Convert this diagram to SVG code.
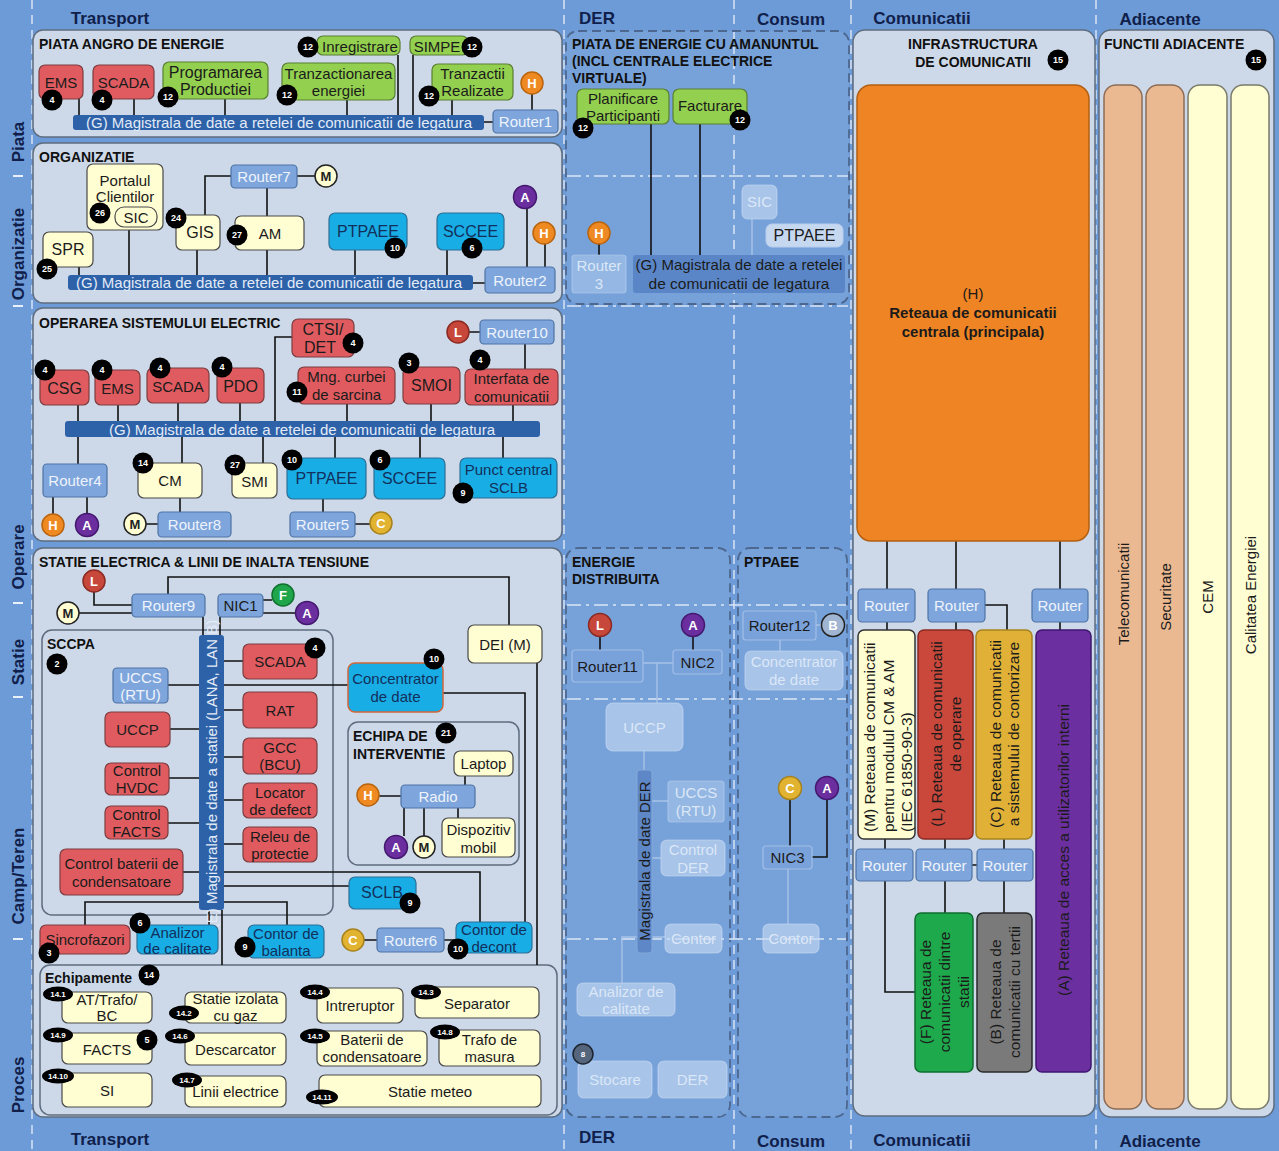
<svg xmlns="http://www.w3.org/2000/svg" width="1279" height="1151" viewBox="0 0 1279 1151">
<style>
text{font-family:"Liberation Sans",Arial,sans-serif}
.t{font-size:15px;fill:#1b1b1b;text-anchor:middle;dominant-baseline:central}
.big{font-size:16px}
.hd{font-size:14px;font-weight:bold;fill:#111;dominant-baseline:central}
.ax{font-size:17px;font-weight:bold;fill:#10204a;text-anchor:middle;dominant-baseline:central}
.pn{fill:#cdd9e9;stroke:#5d6c7e;stroke-width:1.5}
.dp{fill:#ffffff;fill-opacity:.07;stroke:#4d6890;stroke-width:1.8;stroke-dasharray:9 5}
.rd{fill:#e05b60;stroke:#7c3d40;stroke-width:1.2}
.gn{fill:#93d04f;stroke:#5a7e32;stroke-width:1.2}
.cy{fill:#19ade5;stroke:#2d6f96;stroke-width:1.2}
.rt{fill:#7ea6dc;stroke:#4e73a5;stroke-width:1.2}
.yl{fill:#fffdd2;stroke:#4a4a4a;stroke-width:1.2}
.bs{fill:#2d62a9}
.wt{fill:#eef3fb}
.ct{fill:#12305c}
.bw{fill:#e3ebf7}
.cn circle{stroke-width:1.5}
.cn text{font-size:13px;font-weight:bold;fill:#fff;text-anchor:middle;dominant-baseline:central}
.cn text.dk{fill:#222}
.ch{fill:#ef8a22;stroke:#b9640f}
.ca{fill:#6a2e9e;stroke:#44186e}
.cl{fill:#c8473b;stroke:#8a2a22}
.cc{fill:#e2b231;stroke:#a7821c}
.cf{fill:#1fa64b;stroke:#10702e}
.cm{fill:#fffdd2;stroke:#222}
.cb{fill:#9fb5d2;stroke:#222}
.bd circle,.bd ellipse{fill:#000}
.bd text{font-size:9px;font-weight:bold;fill:#fff;text-anchor:middle;dominant-baseline:central}
.bd text.sm{font-size:8px}
#conn path{fill:none;stroke:#111;stroke-width:1.6}
#conn path.f{stroke:#a8c2e8;stroke-width:1.4}
.fd{fill:#b8d0f0;fill-opacity:.45;stroke:#b8d0f0;stroke-opacity:.6;stroke-width:1.2}
.fl{fill:#c9dbf4;fill-opacity:.6;stroke:#c9dbf4;stroke-opacity:.6;stroke-width:1.2}
.fr{fill:#7aa2da;stroke:#a0bee8;stroke-width:1.2}
.ft{fill:#dbe7f7}
.vd{stroke:#d8e4f5;stroke-width:1.5;stroke-dasharray:9 6;fill:none}
.hz{stroke:#dbe6f6;stroke-width:1.5;stroke-dasharray:14 5 3 5;fill:none}
.vt{font-size:15.5px;dominant-baseline:central}
</style>
<rect width="1279" height="1151" fill="#6d9bd7"/>
<g id="grid">
<path class="vd" d="M32 0V1151M564 0V1151M734 0V1151M851 0V1151M1096 0V1151"/>
<path d="M13 176H23M13 306H23M13 603H23M13 697H23M13 939H23" stroke="#e8f0fb" stroke-width="2"/>
</g>
<g id="axis-labels">
<text class="ax" x="110" y="18">Transport</text>
<text class="ax" x="597" y="18">DER</text>
<text class="ax" x="791" y="19">Consum</text>
<text class="ax" x="922" y="18">Comunicatii</text>
<text class="ax" x="1160" y="19">Adiacente</text>
<text class="ax" x="110" y="1139">Transport</text>
<text class="ax" x="597" y="1137">DER</text>
<text class="ax" x="791" y="1141">Consum</text>
<text class="ax" x="922" y="1140">Comunicatii</text>
<text class="ax" x="1160" y="1141">Adiacente</text>
<text class="ax" transform="translate(18,142) rotate(-90)">Piata</text>
<text class="ax" transform="translate(18,254) rotate(-90)">Organizatie</text>
<text class="ax" transform="translate(18,557) rotate(-90)">Operare</text>
<text class="ax" transform="translate(18,662) rotate(-90)">Statie</text>
<text class="ax" transform="translate(18,876) rotate(-90)">Camp/Teren</text>
<text class="ax" transform="translate(18,1085) rotate(-90)">Proces</text>
</g>

<!-- panels -->
<g id="p-angro"><rect class="pn" x="33" y="30" width="529" height="107" rx="10"/><text class="hd" x="39" y="44">PIATA ANGRO DE ENERGIE</text></g>
<g id="p-org"><rect class="pn" x="33" y="143" width="529" height="160" rx="10"/><text class="hd" x="39" y="157">ORGANIZATIE</text></g>
<g id="p-op"><rect class="pn" x="33" y="308" width="529" height="233" rx="10"/><text class="hd" x="39" y="323">OPERAREA SISTEMULUI ELECTRIC</text></g>
<g id="p-statie"><rect class="pn" x="33" y="548" width="529" height="569" rx="10"/><text class="hd" x="39" y="562">STATIE ELECTRICA &amp; LINII DE INALTA TENSIUNE</text></g>
<g id="p-sccpa"><rect class="pn" x="42" y="630" width="291" height="285" rx="10"/><text class="hd" x="47" y="644">SCCPA</text></g>
<g id="p-echipa"><rect class="pn" x="348" y="722" width="171" height="143" rx="10"/><text class="hd"><tspan x="353" y="736">ECHIPA DE</tspan><tspan x="353" y="754">INTERVENTIE</tspan></text></g>
<g id="p-echip"><rect class="pn" x="40" y="965" width="517" height="150" rx="10"/><text class="hd" x="45" y="978">Echipamente</text></g>
<g id="p-retail"><rect class="dp" x="566" y="31" width="283" height="273" rx="12"/><text class="hd"><tspan x="572" y="44">PIATA DE ENERGIE CU AMANUNTUL</tspan><tspan x="572" y="61">(INCL CENTRALE ELECTRICE</tspan><tspan x="572" y="78">VIRTUALE)</tspan></text></g>
<g id="p-energie"><rect class="dp" x="566" y="548" width="164" height="569" rx="12"/><text class="hd"><tspan x="572" y="562">ENERGIE</tspan><tspan x="572" y="579">DISTRIBUITA</tspan></text></g>
<g id="p-ptpaee"><rect class="dp" x="738" y="548" width="109" height="569" rx="12"/><text class="hd" x="744" y="562">PTPAEE</text></g>
<g id="p-com"><rect class="pn" x="853" y="30" width="242" height="1086" rx="12"/><text class="hd" text-anchor="middle"><tspan x="973" y="44">INFRASTRUCTURA</tspan><tspan x="973" y="62">DE COMUNICATII</tspan></text></g>
<g id="p-adi"><rect class="pn" x="1099" y="30" width="175" height="1087" rx="12"/><text class="hd" x="1104" y="44">FUNCTII ADIACENTE</text></g>

<g id="der-grid">
<path class="hz" d="M567 176H848M567 306H848M567 605H846M567 699H846M567 939H846"/>
</g>

<g id="conn">
<path d="M79 99V115M134 99V115M225 99V115M347 100V115M398 55V115M413 55V115M452 100V115M532 94V110M484 122H493"/>
<path d="M79 267V275M129 227V275M197 250V275M267 250V275M267 188V216M231 176H205V215M297 176H315M355 250V275M447 250V275M527 208V267M545 244V267M473 283H485"/>
<path d="M78 405V421M118 405V421M178 403V421M240 403V421M292 337H275V421M347 404V421M431 404V421M513 405V421M469 332H480M525 344V369"/>
<path d="M78 437V464M53 497V514M87 497V514M182 437V463M180 498V512M146 524H158M263 437V463M335 437V458M420 437V458M503 437V458M323 499V512M355 524H370"/>
<path d="M94 592V605H132M79 613H132M168 594V577H509V625M263 600H272M263 613H296M203 617V635M220 617V635"/>
<path d="M168 685H199M170 729H199M169 778H199M168 823H199M183 872H199M224 661H243M224 710H243M224 757H243M224 800H243M224 844H243"/>
<path d="M224 685H348M443 693H525V922M537 663V965M379 796H401M465 776V785M404 808V836M424 808V836M458 808V818"/>
<path d="M224 872H480V922M224 886H349M85 925V902H199M224 902H287V925M209 910V925M222 910V965M364 940H377M444 940H456"/>
<path d="M651 124V255M700 124V255M599 244V255M600 637V650M693 637V650M790 800V846M827 800V857H812"/>
<path class="f" d="M752 219V255M643 663H673M657 663V703M644 751V770M652 801H668M652 858H661M652 937H665M622 983V937H637M780 640V651M816 625H821M788 869V924"/>
<path d="M887 541V589M956 541V589M1060 541V589M985 605H1007V630M887 622V630M956 622V630M1060 622V630M885 839V849M945 839V849M1004 839V849M972 865H977M885 881V992H915M945 881V913M1004 881V913"/>
</g>

<!-- Piata angro -->
<g id="n-ems1"><rect class="rd" x="39" y="65" width="44" height="34" rx="6"/><text class="t" x="61" y="82">EMS</text></g>
<g id="n-scada1"><rect class="rd" x="93" y="65" width="61" height="34" rx="6"/><text class="t" x="123.5" y="82">SCADA</text></g>
<g id="n-prog"><rect class="gn" x="163" y="62" width="105" height="37" rx="6"/><text class="t big"><tspan x="215.5" y="72">Programarea</tspan><tspan x="215.5" y="89">Productiei</tspan></text></g>
<g id="n-tranz"><rect class="gn" x="282" y="63" width="113" height="37" rx="6"/><text class="t"><tspan x="338.5" y="73">Tranzactionarea</tspan><tspan x="338.5" y="90">energiei</tspan></text></g>
<g id="n-inreg"><rect class="gn" x="317" y="36" width="83" height="19" rx="6"/><text class="t" x="360" y="46">Inregistrare</text></g>
<g id="n-simpe"><rect class="gn" x="410" y="36" width="58" height="19" rx="6"/><text class="t" x="437" y="46">SIMPE</text></g>
<g id="n-realiz"><rect class="gn" x="432" y="64" width="81" height="36" rx="6"/><text class="t"><tspan x="472.5" y="73">Tranzactii</tspan><tspan x="472.5" y="90">Realizate</tspan></text></g>
<g id="n-h1" class="cn"><circle class="ch" cx="532" cy="83" r="11"/><text x="532" y="83">H</text></g>
<g id="n-router1"><rect class="rt" x="493" y="110" width="65" height="23" rx="4"/><text class="t wt" x="525.5" y="121.5">Router1</text></g>
<g id="n-bus1"><rect class="bs" x="73" y="115" width="411" height="15" rx="3"/><text class="t bw" x="279" y="122.5" font-size="15.5">(G) Magistrala de date a retelei de comunicatii de legatura</text></g>
<g class="bd"><circle cx="52" cy="100" r="10.5"/><text x="52" y="100">4</text><circle cx="102" cy="100" r="10.5"/><text x="102" y="100">4</text><circle cx="168" cy="97" r="10.5"/><text x="168" y="97">12</text><circle cx="287" cy="95" r="10.5"/><text x="287" y="95">12</text><circle cx="308" cy="47" r="10.5"/><text x="308" y="47">12</text><circle cx="472" cy="47" r="10.5"/><text x="472" y="47">12</text><circle cx="429" cy="96" r="10.5"/><text x="429" y="96">12</text></g>

<!-- Organizatie -->
<g id="n-portal"><rect class="yl" x="87" y="164" width="76" height="66" rx="6"/><text class="t" font-size="14"><tspan x="125" y="180">Portalul</tspan><tspan x="125" y="196">Clientilor</tspan></text><rect class="yl" x="115" y="207" width="42" height="20" rx="9" stroke="#333"/><text class="t" x="136" y="217">SIC</text></g>
<g id="n-spr"><rect class="yl" x="43" y="232" width="50" height="35" rx="6"/><text class="t big" x="68" y="249.5">SPR</text></g>
<g id="n-gis"><rect class="yl" x="176" y="215" width="44" height="35" rx="6"/><text class="t big" x="200" y="232.5">GIS</text></g>
<g id="n-am"><rect class="yl" x="235" y="216" width="69" height="34" rx="6"/><text class="t" x="270" y="233">AM</text></g>
<g id="n-router7"><rect class="rt" x="231" y="165" width="66" height="23" rx="4"/><text class="t wt" x="264" y="176.5">Router7</text></g>
<g id="n-m1" class="cn"><circle class="cm" cx="326" cy="176" r="11"/><text class="dk" x="326" y="176">M</text></g>
<g id="n-ptpaee1"><rect class="cy" x="329" y="213" width="78" height="37" rx="6"/><text class="t ct big" x="368" y="231">PTPAEE</text></g>
<g id="n-sccee1"><rect class="cy" x="437" y="213" width="67" height="37" rx="6"/><text class="t ct big" x="470.5" y="231">SCCEE</text></g>
<g id="n-a1" class="cn"><circle class="ca" cx="525" cy="197" r="11.5"/><text x="525" y="197">A</text></g>
<g id="n-h2" class="cn"><circle class="ch" cx="544" cy="233" r="11"/><text x="544" y="233">H</text></g>
<g id="n-router2"><rect class="rt" x="485" y="267" width="70" height="26" rx="4"/><text class="t wt" x="520" y="280">Router2</text></g>
<g id="n-bus2"><rect class="bs" x="68" y="275" width="405" height="15" rx="3"/><text class="t bw" x="269" y="282.5" font-size="15.5">(G) Magistrala de date a retelei de comunicatii de legatura</text></g>
<g class="bd"><circle cx="100" cy="213" r="10.5"/><text x="100" y="213">26</text><circle cx="47" cy="269" r="10.5"/><text x="47" y="269">25</text><circle cx="176" cy="218" r="10.5"/><text x="176" y="218">24</text><circle cx="237" cy="235" r="10.5"/><text x="237" y="235">27</text><circle cx="395" cy="248" r="10.5"/><text x="395" y="248">10</text><circle cx="472" cy="248" r="10.5"/><text x="472" y="248">6</text></g>

<!-- Operare -->
<g id="n-csg"><rect class="rd" x="40" y="370" width="49" height="35" rx="6"/><text class="t big" x="64.5" y="388">CSG</text></g>
<g id="n-ems2"><rect class="rd" x="95" y="370" width="45" height="35" rx="6"/><text class="t" x="117.5" y="388">EMS</text></g>
<g id="n-scada2"><rect class="rd" x="147" y="368" width="62" height="35" rx="6"/><text class="t" x="178" y="386">SCADA</text></g>
<g id="n-pdo"><rect class="rd" x="217" y="368" width="47" height="35" rx="6"/><text class="t big" x="240.5" y="386">PDO</text></g>
<g id="n-ctsi"><rect class="rd" x="292" y="319" width="62" height="38" rx="6"/><text class="t big"><tspan x="323" y="329">CTSI/</tspan><tspan x="320" y="347">DET</tspan></text></g>
<g id="n-mng"><rect class="rd" x="298" y="367" width="97" height="37" rx="6"/><text class="t"><tspan x="346.5" y="376">Mng. curbei</tspan><tspan x="346.5" y="394">de sarcina</tspan></text></g>
<g id="n-smoi"><rect class="rd" x="403" y="367" width="57" height="37" rx="6"/><text class="t big" x="431.5" y="385">SMOI</text></g>
<g id="n-interf"><rect class="rd" x="465" y="369" width="93" height="36" rx="6"/><text class="t"><tspan x="511.5" y="378">Interfata de</tspan><tspan x="511.5" y="396">comunicatii</tspan></text></g>
<g id="n-l1" class="cn"><circle class="cl" cx="458" cy="332" r="11"/><text x="458" y="332">L</text></g>
<g id="n-router10"><rect class="rt" x="480" y="320" width="74" height="24" rx="4"/><text class="t wt" x="517" y="332">Router10</text></g>
<g id="n-bus3"><rect class="bs" x="65" y="421" width="475" height="16" rx="3"/><text class="t bw" x="302" y="429" font-size="15.5">(G) Magistrala de date a retelei de comunicatii de legatura</text></g>
<g id="n-router4"><rect class="rt" x="43" y="464" width="64" height="33" rx="4"/><text class="t wt" x="75" y="480.5">Router4</text></g>
<g id="n-h3" class="cn"><circle class="ch" cx="53" cy="525" r="11"/><text x="53" y="525">H</text></g>
<g id="n-a2" class="cn"><circle class="ca" cx="87" cy="525" r="11.5"/><text x="87" y="525">A</text></g>
<g id="n-cm"><rect class="yl" x="138" y="463" width="64" height="35" rx="6"/><text class="t" x="170" y="480.5">CM</text></g>
<g id="n-router8"><rect class="rt" x="158" y="512" width="73" height="25" rx="4"/><text class="t wt" x="194.5" y="524.5">Router8</text></g>
<g id="n-m2" class="cn"><circle class="cm" cx="135" cy="524" r="11"/><text class="dk" x="135" y="524">M</text></g>
<g id="n-smi"><rect class="yl" x="232" y="463" width="45" height="35" rx="6"/><text class="t" x="254.5" y="481">SMI</text></g>
<g id="n-ptpaee2"><rect class="cy" x="287" y="458" width="79" height="41" rx="6"/><text class="t ct big" x="326.5" y="478">PTPAEE</text></g>
<g id="n-sccee2"><rect class="cy" x="374" y="458" width="71" height="41" rx="6"/><text class="t ct big" x="409.5" y="478">SCCEE</text></g>
<g id="n-sclbc"><rect class="cy" x="460" y="458" width="97" height="40" rx="6"/><text class="t ct"><tspan x="508.5" y="469">Punct central</tspan><tspan x="508.5" y="487">SCLB</tspan></text></g>
<g id="n-router5"><rect class="rt" x="290" y="512" width="65" height="25" rx="4"/><text class="t wt" x="322.5" y="524.5">Router5</text></g>
<g id="n-c1" class="cn"><circle class="cc" cx="381" cy="523" r="11"/><text x="381" y="523">C</text></g>
<g class="bd"><circle cx="45" cy="370" r="10.5"/><text x="45" y="370">4</text><circle cx="102" cy="370" r="10.5"/><text x="102" y="370">4</text><circle cx="160" cy="368" r="10.5"/><text x="160" y="368">4</text><circle cx="222" cy="367" r="10.5"/><text x="222" y="367">4</text><circle cx="353" cy="343" r="10.5"/><text x="353" y="343">4</text><circle cx="297" cy="392" r="10.5"/><text x="297" y="392">11</text><circle cx="409" cy="363" r="10.5"/><text x="409" y="363">3</text><circle cx="480" cy="360" r="10.5"/><text x="480" y="360">4</text><circle cx="143" cy="463" r="10.5"/><text x="143" y="463">14</text><circle cx="235" cy="465" r="10.5"/><text x="235" y="465">27</text><circle cx="292" cy="460" r="10.5"/><text x="292" y="460">10</text><circle cx="380" cy="460" r="10.5"/><text x="380" y="460">6</text><circle cx="463" cy="493" r="10.5"/><text x="463" y="493">9</text></g>

<!-- Statie -->
<g id="n-l2" class="cn"><circle class="cl" cx="94" cy="581" r="11"/><text x="94" y="581">L</text></g>
<g id="n-m3" class="cn"><circle class="cm" cx="68" cy="613" r="11"/><text class="dk" x="68" y="613">M</text></g>
<g id="n-router9"><rect class="rt" x="132" y="594" width="73" height="23" rx="4"/><text class="t wt" x="168.5" y="605.5">Router9</text></g>
<g id="n-nic1"><rect class="rt" x="218" y="594" width="45" height="23" rx="4"/><text class="t" x="240.5" y="605.5" fill="#1b2a44">NIC1</text></g>
<g id="n-f1" class="cn"><circle class="cf" cx="283" cy="595" r="11"/><text x="283" y="595">F</text></g>
<g id="n-a3" class="cn"><circle class="ca" cx="307" cy="613" r="11.5"/><text x="307" y="613">A</text></g>
<g id="n-busE"><rect class="bs" x="199" y="635" width="25" height="275" rx="3"/><text class="t bw" font-size="11.5" transform="translate(211.5,774) rotate(-90)">(E) Magistrala de date a statiei (LANA, LAN B)</text></g>
<g id="n-uccs"><rect class="rt" x="113" y="668" width="55" height="35" rx="4"/><text class="t wt"><tspan x="140.5" y="677">UCCS</tspan><tspan x="140.5" y="694">(RTU)</tspan></text></g>
<g id="n-uccp"><rect class="rd" x="105" y="712" width="65" height="35" rx="6"/><text class="t" x="137.5" y="729.5">UCCP</text></g>
<g id="n-hvdc"><rect class="rd" x="105" y="763" width="64" height="32" rx="6"/><text class="t"><tspan x="137" y="770">Control</tspan><tspan x="137" y="787">HVDC</tspan></text></g>
<g id="n-facts"><rect class="rd" x="105" y="806" width="63" height="33" rx="6"/><text class="t"><tspan x="136.5" y="814">Control</tspan><tspan x="136.5" y="831">FACTS</tspan></text></g>
<g id="n-cbat"><rect class="rd" x="60" y="849" width="123" height="46" rx="6"/><text class="t"><tspan x="121.5" y="863">Control baterii de</tspan><tspan x="121.5" y="881">condensatoare</tspan></text></g>
<g id="n-scada3"><rect class="rd" x="243" y="644" width="74" height="35" rx="6"/><text class="t" x="280" y="661.5">SCADA</text></g>
<g id="n-rat"><rect class="rd" x="243" y="692" width="74" height="36" rx="6"/><text class="t" x="280" y="710">RAT</text></g>
<g id="n-gcc"><rect class="rd" x="243" y="738" width="74" height="36" rx="6"/><text class="t"><tspan x="280" y="747">GCC</tspan><tspan x="280" y="764">(BCU)</tspan></text></g>
<g id="n-loc"><rect class="rd" x="243" y="783" width="74" height="35" rx="6"/><text class="t"><tspan x="280" y="792">Locator</tspan><tspan x="280" y="809">de defect</tspan></text></g>
<g id="n-releu"><rect class="rd" x="243" y="827" width="74" height="35" rx="6"/><text class="t"><tspan x="280" y="836">Releu de</tspan><tspan x="280" y="853">protectie</tspan></text></g>
<g id="n-conc"><rect x="348" y="663" width="95" height="49" rx="7" fill="#19ade5" stroke="#d0663a" stroke-width="1.5"/><text class="t ct"><tspan x="395.5" y="678">Concentrator</tspan><tspan x="395.5" y="696">de date</tspan></text></g>
<g id="n-dei"><rect class="yl" x="468" y="625" width="74" height="38" rx="6"/><text class="t" x="505" y="644">DEI (M)</text></g>
<g id="n-laptop"><rect class="yl" x="454" y="751" width="59" height="25" rx="6"/><text class="t" x="483.5" y="763.5">Laptop</text></g>
<g id="n-radio"><rect class="rt" x="401" y="785" width="74" height="23" rx="4"/><text class="t wt" x="438" y="796.5">Radio</text></g>
<g id="n-h4" class="cn"><circle class="ch" cx="368" cy="795" r="11"/><text x="368" y="795">H</text></g>
<g id="n-a4" class="cn"><circle class="ca" cx="396" cy="847" r="11.5"/><text x="396" y="847">A</text></g>
<g id="n-m4" class="cn"><circle class="cm" cx="424" cy="847" r="11"/><text class="dk" x="424" y="847">M</text></g>
<g id="n-disp"><rect class="yl" x="442" y="818" width="73" height="39" rx="6"/><text class="t"><tspan x="478.5" y="829">Dispozitiv</tspan><tspan x="478.5" y="847">mobil</tspan></text></g>
<g id="n-sclb"><rect class="cy" x="349" y="877" width="67" height="32" rx="6"/><text class="t ct big" x="382" y="892">SCLB</text></g>
<g id="n-sincro"><rect class="rd" x="40" y="925" width="90" height="29" rx="6"/><text class="t" x="85" y="939.5">Sincrofazori</text></g>
<g id="n-anal"><rect class="cy" x="137" y="925" width="81" height="29" rx="6"/><text class="t ct"><tspan x="177.5" y="932">Analizor</tspan><tspan x="177.5" y="948">de calitate</tspan></text></g>
<g id="n-cbal"><rect class="cy" x="248" y="925" width="76" height="33" rx="6"/><text class="t ct"><tspan x="286" y="933">Contor de</tspan><tspan x="286" y="950">balanta</tspan></text></g>
<g id="n-c2" class="cn"><circle class="cc" cx="353" cy="940" r="11"/><text x="353" y="940">C</text></g>
<g id="n-router6"><rect class="rt" x="377" y="928" width="67" height="24" rx="4"/><text class="t wt" x="410.5" y="940">Router6</text></g>
<g id="n-cdec"><rect class="cy" x="456" y="922" width="76" height="31" rx="6"/><text class="t ct"><tspan x="494" y="929">Contor de</tspan><tspan x="494" y="946">decont</tspan></text></g>
<g class="bd"><circle cx="57" cy="664" r="10.5"/><text x="57" y="664">2</text><circle cx="315" cy="648" r="10.5"/><text x="315" y="648">4</text><circle cx="434" cy="659" r="10.5"/><text x="434" y="659">10</text><circle cx="446" cy="733" r="10.5"/><text x="446" y="733">21</text><circle cx="410" cy="903" r="10.5"/><text x="410" y="903">9</text><circle cx="49" cy="953" r="10.5"/><text x="49" y="953">3</text><circle cx="140" cy="923" r="10.5"/><text x="140" y="923">6</text><circle cx="245" cy="947" r="10.5"/><text x="245" y="947">9</text><circle cx="458" cy="949" r="10.5"/><text x="458" y="949">10</text></g>

<!-- Echipamente -->
<g id="n-at"><rect class="yl" x="62" y="992" width="90" height="31" rx="6"/><text class="t"><tspan x="107" y="999">AT/Trafo/</tspan><tspan x="107" y="1015">BC</tspan></text></g>
<g id="n-gis2"><rect class="yl" x="185" y="992" width="101" height="31" rx="6"/><text class="t"><tspan x="235.5" y="998">Statie izolata</tspan><tspan x="235.5" y="1015">cu gaz</tspan></text></g>
<g id="n-facts2"><rect class="yl" x="62" y="1033" width="90" height="31" rx="6"/><text class="t" x="107" y="1049">FACTS</text></g>
<g id="n-desc"><rect class="yl" x="185" y="1033" width="101" height="32" rx="6"/><text class="t" x="235.5" y="1049">Descarcator</text></g>
<g id="n-si"><rect class="yl" x="62" y="1073" width="90" height="34" rx="6"/><text class="t" x="107" y="1090">SI</text></g>
<g id="n-linii"><rect class="yl" x="185" y="1076" width="101" height="31" rx="6"/><text class="t" x="235.5" y="1091">Linii electrice</text></g>
<g id="n-intr"><rect class="yl" x="317" y="988" width="86" height="35" rx="6"/><text class="t" x="360" y="1005">Intreruptor</text></g>
<g id="n-sep"><rect class="yl" x="415" y="987" width="124" height="31" rx="6"/><text class="t" x="477" y="1003">Separator</text></g>
<g id="n-bat"><rect class="yl" x="317" y="1031" width="110" height="35" rx="6"/><text class="t"><tspan x="372" y="1039">Baterii de</tspan><tspan x="372" y="1056">condensatoare</tspan></text></g>
<g id="n-trafo"><rect class="yl" x="439" y="1030" width="101" height="36" rx="6"/><text class="t"><tspan x="489.5" y="1039">Trafo de</tspan><tspan x="489.5" y="1056">masura</tspan></text></g>
<g id="n-meteo"><rect class="yl" x="319" y="1075" width="222" height="32" rx="6"/><text class="t" x="430" y="1091">Statie meteo</text></g>
<g class="bd"><circle cx="149" cy="975" r="10.5"/><text x="149" y="975">14</text><circle cx="147" cy="1040" r="10.5"/><text x="147" y="1040">5</text>
<ellipse cx="58" cy="994" rx="15" ry="7.5"/><text class="sm" x="58" y="994">14.1</text>
<ellipse cx="184" cy="1013" rx="15" ry="7.5"/><text class="sm" x="184" y="1013">14.2</text>
<ellipse cx="58" cy="1035" rx="15" ry="7.5"/><text class="sm" x="58" y="1035">14.9</text>
<ellipse cx="180" cy="1036" rx="15" ry="7.5"/><text class="sm" x="180" y="1036">14.6</text>
<ellipse cx="58" cy="1076" rx="16" ry="7.5"/><text class="sm" x="58" y="1076">14.10</text>
<ellipse cx="187" cy="1080" rx="15" ry="7.5"/><text class="sm" x="187" y="1080">14.7</text>
<ellipse cx="315" cy="992" rx="15" ry="7.5"/><text class="sm" x="315" y="992">14.4</text>
<ellipse cx="426" cy="992" rx="15" ry="7.5"/><text class="sm" x="426" y="992">14.3</text>
<ellipse cx="315" cy="1036" rx="15" ry="7.5"/><text class="sm" x="315" y="1036">14.5</text>
<ellipse cx="445" cy="1032" rx="15" ry="7.5"/><text class="sm" x="445" y="1032">14.8</text>
<ellipse cx="322" cy="1097" rx="16" ry="7.5"/><text class="sm" x="322" y="1097">14.11</text></g>

<!-- DER retail -->
<g id="n-planif"><rect class="gn" x="577" y="89" width="92" height="35" rx="6"/><text class="t"><tspan x="623" y="98">Planificare</tspan><tspan x="623" y="115">Participanti</tspan></text></g>
<g id="n-fact"><rect class="gn" x="673" y="89" width="74" height="35" rx="6"/><text class="t" x="710" y="105">Facturare</text></g>
<g id="n-sicd"><rect class="fl" x="742" y="185" width="35" height="34" rx="6"/><text class="t ft" x="759.5" y="201">SIC</text></g>
<g id="n-ptpd"><rect x="766" y="224" width="77" height="23" rx="6" fill="#c6d8f0" stroke="#b7cdee"/><text class="t big" x="804.5" y="235.5" fill="#26374f">PTPAEE</text></g>
<g id="n-h5" class="cn"><circle class="ch" cx="599" cy="233" r="11"/><text x="599" y="233">H</text></g>
<g id="n-router3"><rect class="fd" x="572" y="255" width="54" height="38" rx="3"/><text class="t ft"><tspan x="599" y="265">Router</tspan><tspan x="599" y="283">3</tspan></text></g>
<g id="n-busd"><rect x="633" y="255" width="212" height="38" rx="3" fill="#5a86c8"/><text class="t" fill="#e0e9f6"><tspan x="739" y="264">(G) Magistrala de date a retelei</tspan><tspan x="739" y="283" font-size="15.5">de comunicatii de legatura</tspan></text></g>
<g class="bd"><circle cx="583" cy="128" r="10.5"/><text x="583" y="128">12</text><circle cx="740" cy="120" r="10.5"/><text x="740" y="120">12</text></g>

<!-- DER energie distribuita -->
<g id="n-l3" class="cn"><circle class="cl" cx="600" cy="625" r="11.5"/><text x="600" y="625">L</text></g>
<g id="n-a5" class="cn"><circle class="ca" cx="693" cy="625" r="11.5"/><text x="693" y="625">A</text></g>
<g id="n-router11"><rect class="fr" x="572" y="650" width="71" height="32" rx="3"/><text class="t" fill="#e4edf9" x="607.5" y="666">Router11</text></g>
<g id="n-nic2"><rect class="fr" x="673" y="650" width="49" height="24" rx="3"/><text class="t" fill="#e4edf9" x="697.5" y="662">NIC2</text></g>
<g id="n-uccpd"><rect class="fl" x="606" y="703" width="77" height="48" rx="7"/><text class="t ft" x="644.5" y="727">UCCP</text></g>
<g id="n-busder"><rect x="637" y="770" width="15" height="183" rx="3" fill="#5d87c6" stroke="#86a8d8"/><text class="t" fill="#d3e0f3" font-size="13.5" transform="translate(644.5,861) rotate(-90)">Magistrala de date DER</text></g>
<g id="n-uccsd"><rect class="fd" x="668" y="781" width="56" height="41" rx="3"/><text class="t ft"><tspan x="696" y="792">UCCS</tspan><tspan x="696" y="810">(RTU)</tspan></text></g>
<g id="n-ctrlder"><rect class="fl" x="661" y="840" width="64" height="36" rx="6"/><text class="t ft"><tspan x="693" y="849">Control</tspan><tspan x="693" y="867">DER</tspan></text></g>
<g id="n-contord"><rect class="fl" x="665" y="924" width="57" height="29" rx="6"/><text class="t ft" x="693.5" y="938">Contor</text></g>
<g id="n-anald"><rect class="fl" x="577" y="983" width="98" height="33" rx="6"/><text class="t ft"><tspan x="626" y="991">Analizor de</tspan><tspan x="626" y="1008">calitate</tspan></text></g>
<g id="n-stoc"><rect class="fl" x="578" y="1061" width="74" height="37" rx="6"/><text class="t ft" x="615" y="1079">Stocare</text></g>
<g id="n-derb"><rect class="fl" x="658" y="1061" width="69" height="37" rx="6"/><text class="t ft" x="692.5" y="1079">DER</text></g>
<g class="bd"><circle cx="583" cy="1054" r="10" style="fill:#55657c;stroke:#1d2430;stroke-width:1.5"/><text class="sm" x="583" y="1054">8</text></g>

<!-- PTPAEE consum -->
<g id="n-router12"><rect class="fr" x="743" y="611" width="73" height="29" rx="3"/><text class="t" fill="#e4edf9" x="779.5" y="625">Router12</text></g>
<g id="n-b1" class="cn"><circle class="cb" cx="833" cy="625" r="11.5"/><text x="833" y="625">B</text></g>
<g id="n-concd"><rect class="fl" x="745" y="651" width="98" height="39" rx="6"/><text class="t ft"><tspan x="794" y="661">Concentrator</tspan><tspan x="794" y="679">de date</tspan></text></g>
<g id="n-c3" class="cn"><circle class="cc" cx="790" cy="788" r="11.5"/><text x="790" y="788">C</text></g>
<g id="n-a6" class="cn"><circle class="ca" cx="827" cy="788" r="11.5"/><text x="827" y="788">A</text></g>
<g id="n-nic3"><rect class="fr" x="763" y="846" width="49" height="23" rx="3"/><text class="t" fill="#e4edf9" x="787.5" y="857.5">NIC3</text></g>
<g id="n-contorc"><rect class="fl" x="763" y="924" width="56" height="29" rx="6"/><text class="t ft" x="791" y="938">Contor</text></g>

<!-- Comunicatii -->
<g id="n-core"><rect x="857" y="85" width="232" height="456" rx="14" fill="#ef8424" stroke="#b35f12" stroke-width="1.5"/><text class="t" fill="#fbe7cf" font-size="15"><tspan x="973" y="293">(H)</tspan><tspan x="973" y="312" font-weight="bold">Reteaua de comunicatii</tspan><tspan x="973" y="331" font-weight="bold">centrala (principala)</tspan></text></g>
<g id="n-r1"><rect class="rt" x="858" y="589" width="57" height="33" rx="4"/><text class="t wt" x="886.5" y="605.5">Router</text></g>
<g id="n-r2"><rect class="rt" x="928" y="589" width="57" height="33" rx="4"/><text class="t wt" x="956.5" y="605.5">Router</text></g>
<g id="n-r3"><rect class="rt" x="1032" y="589" width="56" height="33" rx="4"/><text class="t wt" x="1060" y="605.5">Router</text></g>
<g id="n-netM"><rect x="858" y="630" width="57" height="209" rx="6" fill="#fffdd2" stroke="#333" stroke-width="1.5"/>
<text class="vt" text-anchor="start" fill="#1b1b1b" transform="translate(869,832) rotate(-90)">(M) Reteaua de comunicatii</text>
<text class="vt" text-anchor="start" fill="#1b1b1b" transform="translate(888,832) rotate(-90)">pentru modulul CM &amp; AM</text>
<text class="vt" text-anchor="start" fill="#1b1b1b" transform="translate(906,832) rotate(-90)">(IEC 61850-90-3)</text></g>
<g id="n-netL"><rect x="918" y="630" width="55" height="209" rx="6" fill="#c9483b" stroke="#8b2b22" stroke-width="1.5"/><text class="t vt" fill="#f7e6e2" transform="translate(936,734) rotate(-90)">(L) Reteaua de comunicatii</text><text class="t vt" fill="#f7e6e2" transform="translate(955,734) rotate(-90)">de operare</text></g>
<g id="n-netC"><rect x="976" y="630" width="56" height="209" rx="6" fill="#e0b136" stroke="#a7841f" stroke-width="1.5"/><text class="t vt" fill="#fdf3d3" transform="translate(995,734) rotate(-90)">(C) Reteaua de comunicatii</text><text class="t vt" fill="#fdf3d3" transform="translate(1013,734) rotate(-90)">a sistemului de contorizare</text></g>
<g id="n-netA"><rect x="1036" y="630" width="55" height="442" rx="6" fill="#6b2fa0" stroke="#3f1670" stroke-width="1.5"/><text class="t vt" fill="#eadcf7" transform="translate(1063,850) rotate(-90)">(A) Reteaua de acces a utilizatorilor interni</text></g>
<g id="n-r4"><rect class="rt" x="856" y="849" width="57" height="32" rx="4"/><text class="t wt" x="884.5" y="865">Router</text></g>
<g id="n-r5"><rect class="rt" x="916" y="849" width="56" height="32" rx="4"/><text class="t wt" x="944" y="865">Router</text></g>
<g id="n-r6"><rect class="rt" x="977" y="849" width="56" height="32" rx="4"/><text class="t wt" x="1005" y="865">Router</text></g>
<g id="n-netF"><rect x="915" y="913" width="58" height="159" rx="6" fill="#1eaa4c" stroke="#0f6e2f" stroke-width="1.5"/><text class="t vt" fill="#dcf3e2" transform="translate(925,992) rotate(-90)">(F) Reteaua de</text><text class="t vt" fill="#dcf3e2" transform="translate(944,992) rotate(-90)">comunicatii dintre</text><text class="t vt" fill="#dcf3e2" transform="translate(963,992) rotate(-90)">statii</text></g>
<g id="n-netB"><rect x="977" y="913" width="55" height="159" rx="6" fill="#7a7a7a" stroke="#2a2a2a" stroke-width="1.5"/><text class="t vt" fill="#f0f0f0" transform="translate(995,992) rotate(-90)">(B) Reteaua de</text><text class="t vt" fill="#f0f0f0" transform="translate(1014,992) rotate(-90)">comunicatii cu tertii</text></g>
<g class="bd"><circle cx="1058" cy="60" r="10.5"/><text x="1058" y="60">15</text><circle cx="1256" cy="60" r="10.5"/><text x="1256" y="60">15</text></g>

<!-- Adiacente -->
<g id="n-telecom"><rect x="1104" y="85" width="38" height="1024" rx="12" fill="#eab992" stroke="#8d6c56" stroke-width="1.5"/><text class="t" font-size="14.5" transform="translate(1123,594) rotate(-90)">Telecomunicatii</text></g>
<g id="n-secur"><rect x="1146" y="85" width="38" height="1024" rx="12" fill="#eab992" stroke="#8d6c56" stroke-width="1.5"/><text class="t" font-size="14.5" transform="translate(1165,597) rotate(-90)">Securitate</text></g>
<g id="n-cem"><rect x="1188" y="85" width="39" height="1024" rx="12" fill="#fffdd2" stroke="#7a7a6a" stroke-width="1.5"/><text class="t" font-size="14.5" transform="translate(1207,597) rotate(-90)">CEM</text></g>
<g id="n-calit"><rect x="1231" y="85" width="38" height="1024" rx="12" fill="#fffdd2" stroke="#7a7a6a" stroke-width="1.5"/><text class="t" font-size="14.5" transform="translate(1250,595) rotate(-90)">Calitatea Energiei</text></g>
</svg>
